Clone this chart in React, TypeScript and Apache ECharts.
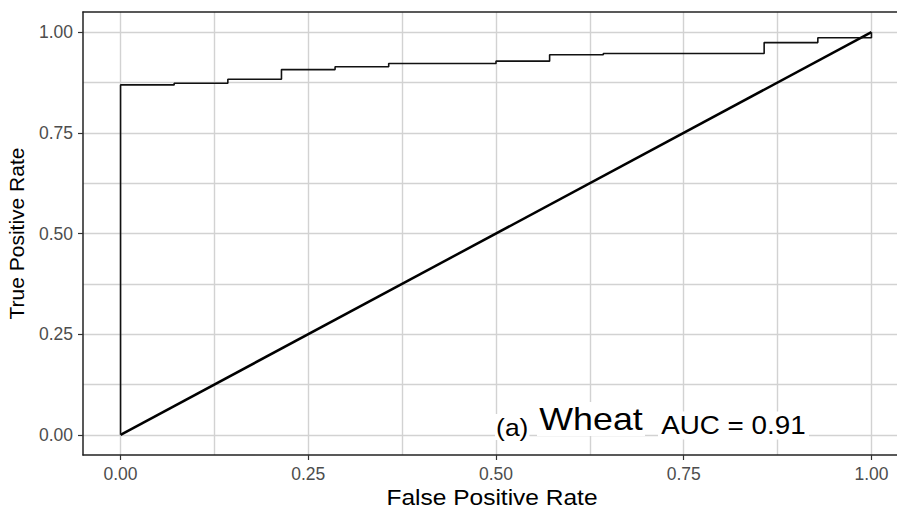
import React, { useEffect, useRef } from "react";
import * as echarts from "echarts";

// ROC curve points (False Positive Rate, True Positive Rate)
const fpr = [0, 0, 0.0714, 0.1429, 0.2143, 0.2857, 0.3571, 0.5, 0.5714, 0.6429, 0.8571, 0.9286, 1.0, 1.0];
const tpr = [0, 0.869, 0.873, 0.883, 0.907, 0.914, 0.922, 0.928, 0.944, 0.947, 0.974, 0.986, 0.986, 1.0];

// reference (chance) line
const diagX = [0, 1];
const diagY = [0, 1];

const majorTicks = [0, 0.25, 0.5, 0.75, 1.0];
const minorTicks = [0.125, 0.375, 0.625, 0.875];

const xTitle = "False Positive Rate";
const yTitle = "True Positive Rate";
const labelA = "(a)";
const labelCrop = "Wheat";
const labelAuc = "AUC = 0.91";

const FONT = "'Liberation Sans', Arial, sans-serif";
const GRID_COLOR = "#d2d2d2";

export default function App() {
  const ref = useRef<HTMLDivElement>(null);

  useEffect(() => {
    document.body.style.margin = "0";
    if (!ref.current) return;
    const chart = echarts.init(ref.current, null, { renderer: "svg" });

    const axisCommon = {
      type: "value" as const,
      min: -0.05,
      max: 1.05,
    };

    const majorAxis = (pos: string, isX: boolean) => ({
      ...axisCommon,
      position: pos,
      name: isX ? "" : yTitle,
      nameLocation: "middle",
      nameGap: 56,
      nameTextStyle: { color: "#000", fontSize: 21, fontFamily: FONT },
      axisLine: { show: true, onZero: false, lineStyle: { color: "#222", width: 1.5 } },
      axisTick: { show: true, length: 5, customValues: majorTicks, lineStyle: { color: "#333", width: 1.2 } },
      axisLabel: {
        show: true,
        margin: 10,
        customValues: majorTicks,
        color: "#4D4D4D",
        fontSize: 17.5,
        fontFamily: FONT,
        formatter: (v: number) => v.toFixed(2),
      },
      splitLine: { show: true, lineStyle: { color: GRID_COLOR, width: 1.4 } },
    });

    const minorAxis = (pos: string) => ({
      ...axisCommon,
      position: pos,
      axisLine: { show: true, onZero: false, lineStyle: { color: "#222", width: 1.5 } },
      axisTick: { show: false, customValues: minorTicks },
      axisLabel: { show: false, customValues: minorTicks },
      splitLine: { show: true, lineStyle: { color: GRID_COLOR, width: 1.4 } },
    });

    chart.setOption({
      animation: false,
      backgroundColor: "#fff",
      grid: { left: 83, top: 12, right: -12, bottom: 54, containLabel: false, outerBoundsMode: "none" },
      xAxis: [majorAxis("bottom", true), minorAxis("top")],
      yAxis: [majorAxis("left", false), minorAxis("right")],
      series: [
        {
          type: "line",
          xAxisIndex: 0,
          yAxisIndex: 0,
          data: diagX.map((x, i) => [x, diagY[i]]),
          symbol: "none",
          lineStyle: { color: "#000", width: 2.5 },
          z: 3,
        },
        {
          type: "line",
          xAxisIndex: 0,
          yAxisIndex: 0,
          data: fpr.map((x, i) => [x, tpr[i]]),
          step: "end",
          symbol: "none",
          lineStyle: { color: "#111", width: 1.6 },
          z: 4,
        },
      ],
      graphic: [
        {
          type: "text",
          x: 492,
          y: 497.5,
          scaleX: 1.14,
          z: 10,
          style: {
            text: xTitle,
            font: `21.5px ${FONT}`,
            fill: "#000",
            align: "center",
            verticalAlign: "middle",
          },
        },
        {
          type: "text",
          x: 495,
          y: 427,
          scaleX: 1.1,
          z: 10,
          style: {
            text: labelA,
            font: `24px ${FONT}`,
            fill: "#000",
            align: "left",
            verticalAlign: "middle",
            backgroundColor: "#fff",
            padding: [1, 1],
          },
        },
        {
          type: "text",
          x: 537,
          y: 419,
          scaleX: 1.12,
          z: 10,
          style: {
            text: labelCrop,
            font: `32px ${FONT}`,
            fill: "#000",
            align: "left",
            verticalAlign: "middle",
            backgroundColor: "#fff",
            padding: [1, 2],
          },
        },
        {
          type: "text",
          x: 658,
          y: 425.5,
          scaleX: 1.07,
          z: 10,
          style: {
            text: labelAuc,
            font: `26px ${FONT}`,
            fill: "#000",
            align: "left",
            verticalAlign: "middle",
            backgroundColor: "#fff",
            padding: [1, 3],
          },
        },
      ],
    });

    return () => chart.dispose();
  }, []);

  return <div ref={ref} style={{ width: 897, height: 509 }} />;
}
